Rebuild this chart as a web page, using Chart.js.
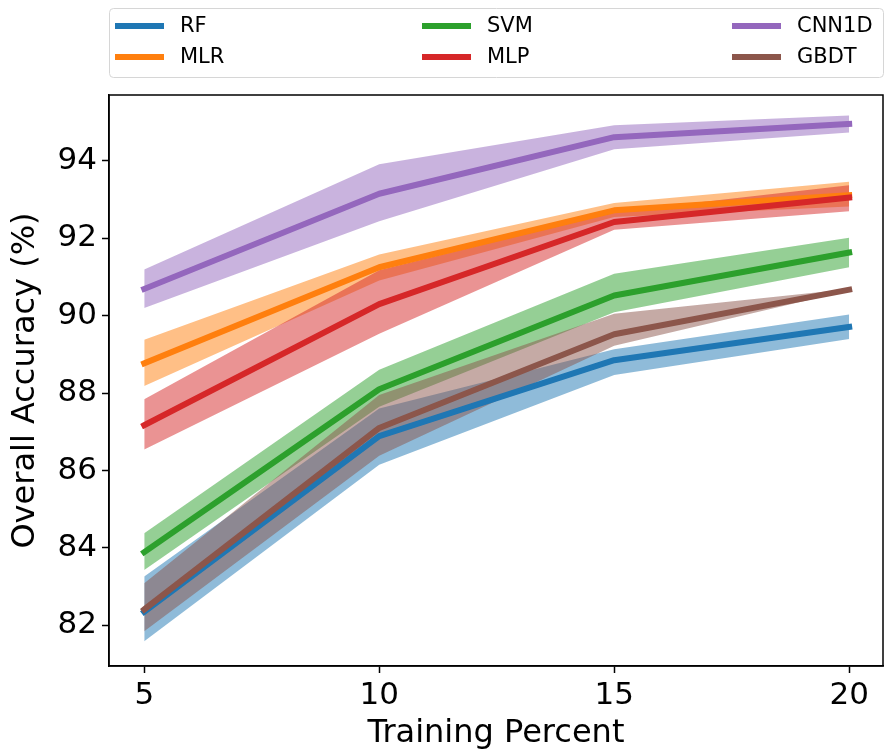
<!DOCTYPE html>
<html>
<head>
<meta charset="utf-8">
<script src="https://cdn.jsdelivr.net/npm/chart.js@4/dist/chart.umd.min.js"></script>
<style>
  html, body { margin: 0; padding: 0; background: #fff; }
  #wrap { width: 884px; height: 753px; }
</style>
</head>
<body>
<div id="wrap"><canvas id="accChart" width="884" height="753"></canvas></div>
<script>
// x positions and tick labels
const trainingPercent = [5, 10, 15, 20];
const yTicks = [82, 84, 86, 88, 90, 92, 94];

const models = ["RF", "MLR", "SVM", "MLP", "CNN1D", "GBDT"];
const colors = ["#1f77b4", "#ff7f0e", "#2ca02c", "#d62728", "#9467bd", "#8c564b"];
const bandColors = ["rgba(31,119,180,0.5)", "rgba(255,127,14,0.5)", "rgba(44,160,44,0.5)",
                    "rgba(214,39,40,0.5)", "rgba(148,103,189,0.5)", "rgba(140,86,75,0.5)"];

// mean overall accuracy (%)
const rfMean   = [82.35, 86.89, 88.85, 89.71];
const mlrMean  = [88.77, 91.25, 92.72, 93.11];
const svmMean  = [83.89, 88.10, 90.52, 91.63];
const mlpMean  = [87.17, 90.30, 92.42, 93.05];
const cnnMean  = [90.69, 93.15, 94.61, 94.95];
const gbdtMean = [82.41, 87.10, 89.52, 90.67];

// upper edge of shaded band
const rfUpper   = [83.26, 87.60, 89.13, 90.03];
const mlrUpper  = [89.38, 91.58, 92.91, 93.46];
const svmUpper  = [84.38, 88.60, 91.08, 92.01];
const mlpUpper  = [87.84, 91.17, 92.68, 93.37];
const cnnUpper  = [91.19, 93.91, 94.92, 95.17];
const gbdtUpper = [83.09, 87.95, 90.05, 90.69];

// lower edge of shaded band
const rfLower   = [81.59, 86.15, 88.47, 89.40];
const mlrLower  = [88.18, 90.91, 92.55, 92.82];
const svmLower  = [83.43, 87.65, 90.09, 91.25];
const mlpLower  = [86.54, 89.53, 92.22, 92.70];
const cnnLower  = [90.20, 92.44, 94.30, 94.73];
const gbdtLower = [81.85, 86.38, 89.22, 90.65];

const means  = [rfMean, mlrMean, svmMean, mlpMean, cnnMean, gbdtMean];
const uppers = [rfUpper, mlrUpper, svmUpper, mlpUpper, cnnUpper, gbdtUpper];
const lowers = [rfLower, mlrLower, svmLower, mlpLower, cnnLower, gbdtLower];

function pts(arr) {
  return arr.map((v, i) => ({ x: trainingPercent[i], y: v }));
}

// build datasets: for each model an upper edge (filled to lower), lower edge, mean line
const datasets = [];
models.forEach((name, m) => {
  const upIdx = datasets.length;
  datasets.push({
    label: name + "_upper",
    data: pts(uppers[m]),
    borderWidth: 0, borderColor: "rgba(0,0,0,0)", pointRadius: 0,
    backgroundColor: bandColors[m],
    fill: upIdx + 1,
    order: 100 - m
  });
  datasets.push({
    label: name + "_lower",
    data: pts(lowers[m]),
    borderWidth: 0, borderColor: "rgba(0,0,0,0)", pointRadius: 0,
    fill: false,
    order: 100 - m
  });
  datasets.push({
    label: name,
    data: pts(means[m]),
    borderColor: colors[m], backgroundColor: colors[m],
    borderWidth: 6, pointRadius: 0,
    borderCapStyle: "square", borderJoinStyle: "round",
    fill: false,
    order: 100 - m
  });
});

// matplotlib-style frame and boxed 3-column legend
const framePlugin = {
  id: "framePlugin",
  afterDatasetsDraw(chart) {
    const a = chart.chartArea, ctx = chart.ctx;
    ctx.save();
    ctx.strokeStyle = "#000";
    ctx.lineWidth = 1.5;
    ctx.strokeRect(a.left, a.top, a.right - a.left, a.bottom - a.top);
    ctx.restore();
  },
  afterDraw(chart) {
    const ctx = chart.ctx;
    const box = { x: 109, y: 8, w: 774, h: 69, r: 4 };
    ctx.save();
    ctx.beginPath();
    ctx.roundRect(box.x + 0.5, box.y + 0.5, box.w, box.h, box.r);
    ctx.fillStyle = "rgba(255,255,255,0.8)";
    ctx.fill();
    ctx.strokeStyle = "#d6d6d6";
    ctx.lineWidth = 1;
    ctx.stroke();

    const colX = [115, 422, 732];
    const rowY = [26, 57];
    ctx.font = "21px 'DejaVu Sans'";
    ctx.textBaseline = "middle";
    models.forEach((name, m) => {
      const c = Math.floor(m / 2), r = m % 2;
      const x = colX[c], y = rowY[r];
      ctx.strokeStyle = colors[m];
      ctx.lineWidth = 6;
      ctx.lineCap = "butt";
      ctx.beginPath();
      ctx.moveTo(x, y);
      ctx.lineTo(x + 49, y);
      ctx.stroke();
      ctx.fillStyle = "#000";
      ctx.fillText(name, x + 65, y + 1);
    });
    ctx.restore();
  }
};

const ctx = document.getElementById("accChart").getContext("2d");
new Chart(ctx, {
  type: "line",
  data: { datasets: datasets },
  plugins: [framePlugin],
  options: {
    responsive: false,
    animation: false,
    layout: { padding: { top: 95, right: 1, left: 0, bottom: 0 } },
    plugins: {
      legend: { display: false },
      tooltip: { enabled: false },
      filler: { drawTime: "beforeDatasetsDraw" }
    },
    scales: {
      x: {
        type: "linear",
        min: 4.25, max: 20.72,
        afterBuildTicks: s => { s.ticks = trainingPercent.map(v => ({ value: v })); },
        afterFit: s => { s.height = 87; },
        grid: { drawOnChartArea: false, drawTicks: true, tickLength: 7, tickWidth: 1.5, tickColor: "#000" },
        border: { display: true, color: "#000", width: 1.5 },
        ticks: { color: "#000", padding: 4, font: { family: "DejaVu Sans", size: 31 } },
        title: {
          display: true, text: "Training Percent", color: "#000",
          font: { family: "DejaVu Sans", size: 32 }, padding: { top: 0, bottom: 0 }
        }
      },
      y: {
        type: "linear",
        min: 80.95, max: 95.7,
        afterBuildTicks: s => { s.ticks = yTicks.map(v => ({ value: v })); },
        afterFit: s => { s.width = 109; },
        grid: { drawOnChartArea: false, drawTicks: true, tickLength: 7, tickWidth: 1.5, tickColor: "#000" },
        border: { display: true, color: "#000", width: 1.5 },
        ticks: { color: "#000", padding: 5, font: { family: "DejaVu Sans", size: 31 } },
        title: {
          display: true, text: "Overall Accuracy (%)", color: "#000",
          font: { family: "DejaVu Sans", size: 32 }, padding: { top: 6, bottom: 0 }
        }
      }
    }
  }
});
</script>
</body>
</html>
